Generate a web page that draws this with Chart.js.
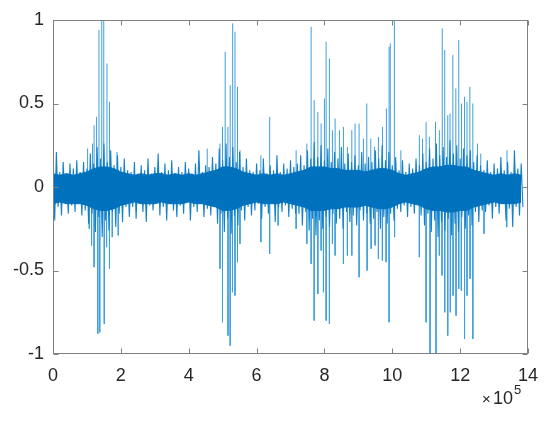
<!DOCTYPE html>
<html lang="en">
  <head>
    <meta charset="UTF-8" />
    <title>Signal</title>
    <script src="https://cdn.jsdelivr.net/npm/chart.js@4.4.1/dist/chart.umd.min.js"></script>
    <style>
      body { margin: 0; background: #fff; }
    </style>
  </head>
  <body>
    <canvas id="chart-sig" width="550" height="425"></canvas>

    <script>
      // solid dark core of the waveform, every 2e4 samples
      const coreStep = 20000;
      const coreHi = [
        0.08, 0.07, 0.08, 0.07, 0.08,
        0.09, 0.11, 0.12, 0.12, 0.11, 0.09, 0.08,
        0.07, 0.08, 0.07, 0.08, 0.08, 0.07, 0.08, 0.07, 0.08, 0.07, 0.08,
        0.09, 0.10, 0.12, 0.12, 0.11, 0.09, 0.08,
        0.07, 0.08, 0.07, 0.08, 0.07, 0.08,
        0.09, 0.10, 0.12, 0.12, 0.12, 0.11, 0.11, 0.10, 0.10, 0.10, 0.09,
        0.10, 0.11, 0.11, 0.10,
        0.08, 0.07, 0.08,
        0.09, 0.11, 0.12, 0.12, 0.13, 0.13, 0.12, 0.12, 0.10, 0.09,
        0.08, 0.07, 0.08, 0.07, 0.08, 0.07
      ];
      const coreLo = [
        -0.10, -0.09, -0.10, -0.10, -0.10,
        -0.11, -0.13, -0.14, -0.14, -0.13, -0.11, -0.10,
        -0.09, -0.10, -0.10, -0.10, -0.09, -0.10, -0.10, -0.10, -0.09, -0.10, -0.10,
        -0.11, -0.12, -0.14, -0.14, -0.13, -0.11, -0.10,
        -0.09, -0.10, -0.10, -0.10, -0.09, -0.10,
        -0.11, -0.12, -0.14, -0.14, -0.14, -0.13, -0.13, -0.12, -0.12, -0.12, -0.11,
        -0.12, -0.13, -0.13, -0.12,
        -0.10, -0.09, -0.10,
        -0.11, -0.13, -0.14, -0.14, -0.15, -0.15, -0.14, -0.14, -0.12, -0.11,
        -0.10, -0.09, -0.10, -0.10, -0.10, -0.09
      ];

      // ragged edge of the band: one max and one min every 1e4 samples (0 .. 1.38e6)
      const bandStep = 10000;
      const bandHi = [
        0.10, 0.21, 0.09, 0.15, 0.08, 0.14, 0.11, 0.16, 0.09,
        0.15, 0.11, 0.20, 0.14, 0.24, 0.17, 0.26, 0.15, 0.22, 0.13, 0.19, 0.12, 0.17, 0.10,
        0.09, 0.15, 0.08, 0.13, 0.10, 0.17, 0.08, 0.12, 0.20, 0.09, 0.14, 0.10, 0.16, 0.08,
        0.12, 0.09, 0.15, 0.11, 0.08, 0.14, 0.22, 0.09, 0.13,
        0.12, 0.18, 0.14, 0.23, 0.16, 0.26, 0.18, 0.24, 0.15, 0.21, 0.12, 0.17, 0.10,
        0.09, 0.14, 0.10, 0.17, 0.08, 0.13, 0.10, 0.19, 0.09, 0.14, 0.11, 0.16, 0.12,
        0.14, 0.19, 0.13, 0.22, 0.17, 0.27, 0.18, 0.25, 0.16, 0.23, 0.15, 0.21, 0.17, 0.24,
        0.14, 0.20, 0.15, 0.19, 0.13, 0.21, 0.14, 0.18,
        0.15, 0.22, 0.17, 0.25, 0.16, 0.21, 0.13, 0.18,
        0.10, 0.16, 0.09, 0.14, 0.11, 0.17,
        0.13, 0.20, 0.15, 0.23, 0.17, 0.26, 0.19, 0.24, 0.18, 0.28, 0.20, 0.25, 0.17, 0.23,
        0.19, 0.22, 0.15, 0.19, 0.13,
        0.10, 0.16, 0.09, 0.14, 0.11, 0.18, 0.10, 0.15, 0.09, 0.22, 0.11, 0.14
      ];
      const bandLo = [
        -0.20, -0.12, -0.17, -0.09, -0.16, -0.11, -0.15, -0.10, -0.17,
        -0.14, -0.22, -0.16, -0.27, -0.18, -0.30, -0.20, -0.26, -0.15, -0.24, -0.16, -0.21, -0.12, -0.18,
        -0.12, -0.19, -0.10, -0.15, -0.21, -0.11, -0.14, -0.09, -0.17, -0.12, -0.20, -0.10, -0.14, -0.18,
        -0.11, -0.16, -0.09, -0.20, -0.12, -0.15, -0.10, -0.18, -0.13,
        -0.17, -0.12, -0.22, -0.16, -0.27, -0.19, -0.28, -0.17, -0.23, -0.14, -0.20, -0.12, -0.17,
        -0.14, -0.10, -0.19, -0.12, -0.16, -0.09, -0.21, -0.12, -0.15, -0.11, -0.18, -0.13, -0.16,
        -0.16, -0.23, -0.15, -0.26, -0.19, -0.29, -0.20, -0.25, -0.18, -0.24, -0.16, -0.22, -0.19, -0.25,
        -0.15, -0.21, -0.17, -0.23, -0.14, -0.20, -0.16, -0.22,
        -0.19, -0.15, -0.25, -0.18, -0.22, -0.16, -0.20, -0.13,
        -0.15, -0.11, -0.18, -0.12, -0.16, -0.10,
        -0.17, -0.23, -0.16, -0.27, -0.20, -0.30, -0.21, -0.26, -0.19, -0.29, -0.22, -0.27, -0.18, -0.25,
        -0.17, -0.23, -0.15, -0.21, -0.14,
        -0.15, -0.11, -0.19, -0.12, -0.16, -0.10, -0.20, -0.13, -0.24, -0.12, -0.17, -0.12
      ];

      // positive peaks sticking out of the band (sample index, amplitude)
      const posX = [
        102000, 116600, 121100, 128400, 135500, 143700, 149600, 159100, 166400, 188500,
        454500, 492200, 499600, 507500, 515500, 522200, 529600, 536400, 543700, 551100, 612700, 638600,
        716600, 748200, 760800, 769700, 780600, 790300, 800000, 805000, 814700, 823600, 831500,
        844200, 856000, 867700, 880700, 890400, 902200, 914900, 924900,
        936700, 947300, 959100, 971400, 982600, 990600, 994100, 1006200, 1025300,
        1079800, 1089200, 1099600, 1109300, 1127500, 1138700, 1147300, 1154600, 1163500, 1170200,
        1178500, 1187300, 1195900, 1204100, 1213000, 1220300, 1228600, 1237400, 1251200, 1260700, 1338100
      ];
      const posY = [
        0.23, 0.26, 0.37, 0.42, 0.94, 1.0, 1.0, 0.74, 0.51, 0.21,
        0.23, 0.26, 0.36, 0.81, 0.36, 0.61, 0.98, 0.93, 0.60, 0.22, 0.19, 0.42,
        0.22, 0.26, 0.96, 0.52, 0.45, 0.38, 0.53, 0.87, 0.77, 0.34, 0.41,
        0.34, 0.36, 0.24, 0.34, 0.38, 0.38, 0.29, 0.50,
        0.29, 0.24, 0.30, 0.36, 0.47, 0.84, 0.86, 1.0, 0.22,
        0.31, 0.29, 0.39, 0.30, 0.39, 0.34, 0.95, 0.82, 0.43, 0.44,
        0.79, 0.59, 0.88, 0.50, 0.54, 0.51, 0.60, 0.50, 0.26, 0.20, 0.22
      ];

      // negative peaks
      const negX = [
        1000, 106900, 113700, 121100, 132000, 137800, 151100, 157900, 166400, 174700, 192300,
        492200, 499600, 515800, 522200, 529000, 536400, 543700, 551100, 612700, 638600, 663600,
        716600, 748200, 760800, 769700, 780600, 790300, 797100, 805000, 814700, 823600, 831500,
        856000, 867700, 880700, 902200, 925800,
        937600, 949300, 959100, 970800, 981700, 990600, 1006800,
        1079800, 1099600, 1111300, 1129000, 1138700, 1146700, 1154600, 1163500, 1171100, 1179100,
        1187900, 1195900, 1203500, 1213000, 1220300, 1229200, 1237400, 1270400, 1337300
      ];
      const negY = [
        -0.20, -0.25, -0.35, -0.48, -0.88, -0.87, -0.82, -0.36, -0.49, -0.30, -0.29,
        -0.49, -0.81, -0.89, -0.95, -0.63, -0.65, -0.45, -0.34, -0.33, -0.40, -0.23,
        -0.25, -0.34, -0.46, -0.80, -0.64, -0.38, -0.63, -0.80, -0.82, -0.34, -0.41,
        -0.46, -0.41, -0.41, -0.54, -0.50,
        -0.37, -0.35, -0.43, -0.44, -0.45, -0.81, -0.30,
        -0.42, -0.81, -1.0, -1.0, -0.41, -0.53, -0.75, -0.89, -0.75, -0.65,
        -0.77, -0.61, -0.62, -0.91, -0.65, -0.55, -0.91, -0.28, -0.24
      ];

      const xTicks = [0, 200000, 400000, 600000, 800000, 1000000, 1200000, 1400000];
      const yTicks = [-1, -0.5, 0, 0.5, 1];

      const lineColor = "#0072BD";
      const edgeColor = "#1580c8";
      const peakColor = "#3f9fdc";
      const textColor = "#262626";
      const fontFamily = "'Liberation Sans', Arial, Helvetica, sans-serif";

      let coreHiPts = coreHi.map((v, i) => ({ x: i * coreStep, y: v }));
      let coreLoPts = coreLo.map((v, i) => ({ x: i * coreStep, y: v }));

      // ragged edge drawn as a zigzag: max then min inside each step
      let bandPts = [];
      bandHi.forEach((v, i) => {
        bandPts.push({ x: i * bandStep, y: v });
        bandPts.push({ x: i * bandStep + bandStep / 2, y: bandLo[i] });
      });

      // every peak is a vertical stroke from 0, separated by a gap
      let spikePts = [];
      posX.forEach((x, i) => {
        spikePts.push({ x: x, y: 0 }, { x: x, y: posY[i] }, { x: x, y: null });
      });
      negX.forEach((x, i) => {
        spikePts.push({ x: x, y: 0 }, { x: x, y: negY[i] }, { x: x, y: null });
      });

      // matlab style box with inward ticks on all four sides, and the x10^5 note
      const axesBox = {
        id: "axesBox",
        afterDraw(chart) {
          const ctx = chart.ctx;
          const a = chart.chartArea;
          const sx = chart.scales.x;
          const sy = chart.scales.y;
          const l = Math.round(a.left) + 0.5;
          const r = Math.round(a.right) - 0.5;
          const t = Math.round(a.top) + 0.5;
          const b = Math.round(a.bottom) - 0.5;
          ctx.save();
          ctx.strokeStyle = "#808080";
          ctx.lineWidth = 1;
          ctx.strokeRect(l, t, r - l, b - t);
          ctx.beginPath();
          xTicks.forEach((v) => {
            const px = Math.round(sx.getPixelForValue(v)) + 0.5;
            ctx.moveTo(px, b);
            ctx.lineTo(px, b - 5);
            ctx.moveTo(px, t);
            ctx.lineTo(px, t + 5);
          });
          yTicks.forEach((v) => {
            const py = Math.round(sy.getPixelForValue(v)) + 0.5;
            ctx.moveTo(l, py);
            ctx.lineTo(l + 5, py);
            ctx.moveTo(r, py);
            ctx.lineTo(r - 5, py);
          });
          ctx.stroke();

          ctx.fillStyle = textColor;
          ctx.textBaseline = "alphabetic";
          ctx.textAlign = "left";
          ctx.font = "15px " + fontFamily;
          ctx.fillText("\u00d7", a.right - 46, a.bottom + 50);
          ctx.font = "18px " + fontFamily;
          ctx.fillText("10", a.right - 35, a.bottom + 50);
          ctx.font = "13px " + fontFamily;
          ctx.fillText("5", a.right - 14, a.bottom + 40);
          ctx.restore();
        },
      };

      const config = {
        type: "line",
        data: {
          datasets: [
            {
              label: "core",
              data: coreHiPts,
              borderColor: lineColor,
              backgroundColor: lineColor,
              borderWidth: 1,
              pointRadius: 0,
              fill: "+1",
            },
            {
              label: "coreLo",
              data: coreLoPts,
              borderColor: lineColor,
              borderWidth: 1,
              pointRadius: 0,
              fill: false,
            },
            {
              label: "signal",
              data: bandPts,
              borderColor: edgeColor,
              borderWidth: 1.1,
              pointRadius: 0,
              fill: false,
            },
            {
              label: "peaks",
              data: spikePts,
              borderColor: peakColor,
              borderWidth: 1,
              pointRadius: 0,
              spanGaps: false,
              fill: false,
            },
          ],
        },
        options: {
          responsive: false,
          animation: false,
          layout: { padding: { left: 0, right: 22, top: 20, bottom: 0 } },
          plugins: {
            legend: { display: false },
            tooltip: { enabled: false },
          },
          scales: {
            x: {
              type: "linear",
              min: 0,
              max: 1400000,
              afterBuildTicks: (s) => {
                s.ticks = xTicks.map((v) => ({ value: v }));
              },
              afterFit: (s) => {
                s.height = 71;
              },
              grid: { display: false, drawTicks: false },
              border: { display: false },
              ticks: {
                padding: 11,
                maxRotation: 0,
                color: textColor,
                font: { family: fontFamily, size: 18 },
                callback: (v) => String(v / 100000),
              },
            },
            y: {
              type: "linear",
              min: -1,
              max: 1,
              afterBuildTicks: (s) => {
                s.ticks = yTicks.map((v) => ({ value: v }));
              },
              afterFit: (s) => {
                s.width = 53;
              },
              grid: { display: false, drawTicks: false },
              border: { display: false },
              ticks: {
                padding: 9,
                color: textColor,
                font: { family: fontFamily, size: 18 },
                callback: (v) => String(v),
              },
            },
          },
        },
        plugins: [axesBox],
      };

      let chart = new Chart(document.getElementById("chart-sig").getContext("2d"), config);
    </script>
  </body>
</html>
